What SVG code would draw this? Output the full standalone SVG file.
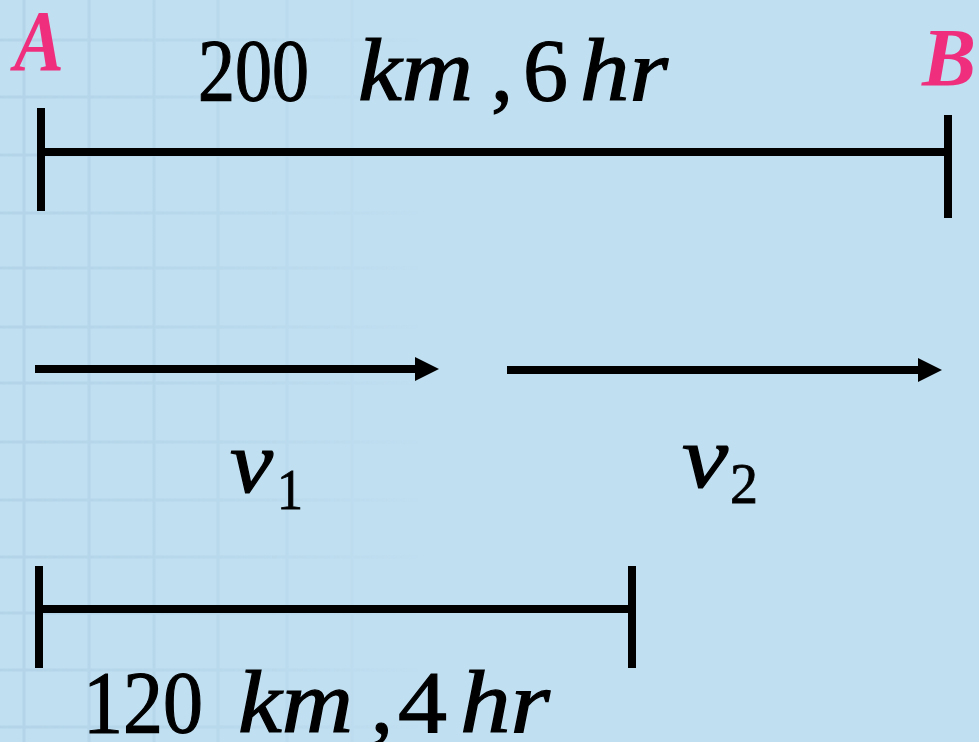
<svg xmlns="http://www.w3.org/2000/svg" width="979" height="742" viewBox="0 0 979 742">
  <defs>
    <linearGradient id="fade" x1="0" y1="0" x2="1" y2="0">
      <stop offset="0" stop-color="#fff" stop-opacity="1"/>
      <stop offset="0.55" stop-color="#fff" stop-opacity="0.6"/>
      <stop offset="1" stop-color="#fff" stop-opacity="0"/>
    </linearGradient>
    <mask id="gridMask" maskUnits="userSpaceOnUse" x="0" y="0" width="979" height="742">
      <rect x="0" y="0" width="420" height="742" fill="url(#fade)"/>
    </mask>
    <marker id="arrow" markerUnits="userSpaceOnUse" markerWidth="26" markerHeight="26" refX="5" refY="12" orient="auto">
      <path d="M0,0 L24,12 L0,24 Z" fill="#000"/>
    </marker>
    <style>
      .bar { stroke: #000; stroke-width: 8; fill: none; }
      .grid line { stroke: #b3d4e8; stroke-width: 3; }
      .lbl { font-family: "Liberation Serif", "DejaVu Serif", serif; fill: #000; stroke: #000; stroke-width: 1.2px; font-size: 88px; }
      .it { font-style: italic; }
      .sub { font-size: 56px; stroke-width: 0.8px; }
      .pt { font-family: "Liberation Serif", "DejaVu Serif", serif; font-weight: bold; font-style: italic; fill: #ef2f7e; }
    </style>
  </defs>

  <rect x="0" y="0" width="979" height="742" fill="#c0dff1"/>
  <g class="grid" mask="url(#gridMask)">
    <line x1="24" y1="0" x2="24" y2="742"/>
    <line x1="89" y1="0" x2="89" y2="742"/>
    <line x1="154" y1="0" x2="154" y2="742"/>
    <line x1="218" y1="0" x2="218" y2="742"/>
    <line x1="287" y1="0" x2="287" y2="742"/>
    <line x1="352" y1="0" x2="352" y2="742"/>
    <line x1="0" y1="40" x2="420" y2="40"/>
    <line x1="0" y1="97" x2="420" y2="97"/>
    <line x1="0" y1="155" x2="420" y2="155"/>
    <line x1="0" y1="213" x2="420" y2="213"/>
    <line x1="0" y1="268" x2="420" y2="268"/>
    <line x1="0" y1="327" x2="420" y2="327"/>
    <line x1="0" y1="383" x2="420" y2="383"/>
    <line x1="0" y1="442" x2="420" y2="442"/>
    <line x1="0" y1="500" x2="420" y2="500"/>
    <line x1="0" y1="557" x2="420" y2="557"/>
    <line x1="0" y1="613" x2="420" y2="613"/>
    <line x1="0" y1="670" x2="420" y2="670"/>
    <line x1="0" y1="727" x2="420" y2="727"/>
  </g>

  <g id="pointA">
    <text class="pt" x="14" y="70" font-size="86" textLength="50" lengthAdjust="spacingAndGlyphs">A</text>
  </g>
  <g id="pointB">
    <text class="pt" x="922" y="85" font-size="82" textLength="54" lengthAdjust="spacingAndGlyphs">B</text>
  </g>

  <g id="segmentAB">
    <line class="bar" x1="41" y1="152" x2="948" y2="152"/>
    <line class="bar" x1="41" y1="108" x2="41" y2="211"/>
    <line class="bar" x1="948" y1="115" x2="948" y2="218"/>
    <text class="lbl" x="198" y="100" textLength="111" lengthAdjust="spacingAndGlyphs">200</text>
    <text class="lbl it" x="358" y="100" textLength="115" lengthAdjust="spacingAndGlyphs">km</text>
    <text class="lbl" x="491" y="100">,</text>
    <text class="lbl" x="523" y="100" textLength="45" lengthAdjust="spacingAndGlyphs">6</text>
    <text class="lbl it" x="580" y="100" textLength="88" lengthAdjust="spacingAndGlyphs">hr</text>
  </g>

  <g id="segmentAC">
    <line class="bar" x1="39" y1="609" x2="632" y2="609"/>
    <line class="bar" x1="39" y1="566" x2="39" y2="668"/>
    <line class="bar" x1="632" y1="566" x2="632" y2="668"/>
    <text class="lbl" x="83" y="732" textLength="120" lengthAdjust="spacingAndGlyphs">120</text>
    <text class="lbl it" x="238" y="732" textLength="115" lengthAdjust="spacingAndGlyphs">km</text>
    <text class="lbl" x="371" y="732">,</text>
    <text class="lbl" x="398" y="732" textLength="49" lengthAdjust="spacingAndGlyphs">4</text>
    <text class="lbl it" x="460" y="732" textLength="90" lengthAdjust="spacingAndGlyphs">hr</text>
  </g>

  <g id="connectors">
    <line class="bar" x1="35" y1="369" x2="420" y2="369" marker-end="url(#arrow)"/>
    <line class="bar" x1="507" y1="370" x2="923" y2="370" marker-end="url(#arrow)"/>
  </g>

  <g id="v1">
    <text class="lbl it" x="230" y="492" textLength="43" lengthAdjust="spacingAndGlyphs">v</text>
    <text class="lbl sub" x="277" y="509" textLength="26" lengthAdjust="spacingAndGlyphs">1</text>
  </g>
  <g id="v2">
    <text class="lbl it" x="682" y="487" textLength="46" lengthAdjust="spacingAndGlyphs">v</text>
    <text class="lbl sub" x="730" y="503" textLength="28" lengthAdjust="spacingAndGlyphs">2</text>
  </g>
</svg>
